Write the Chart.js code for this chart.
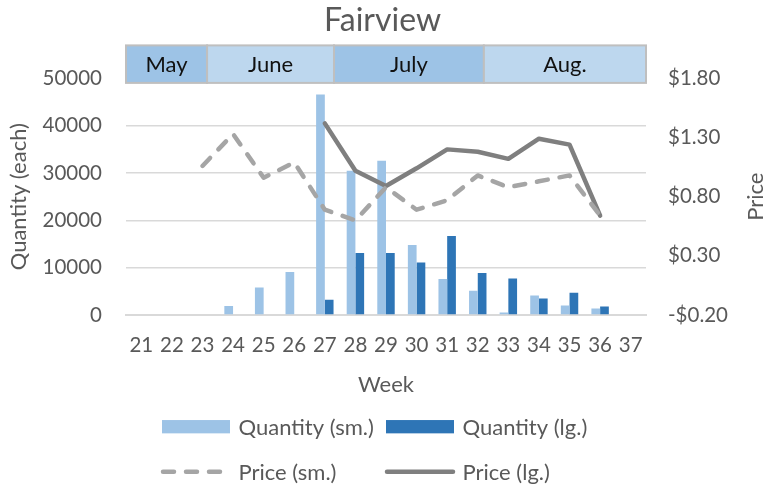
<!DOCTYPE html>
<html>
<head>
<meta charset="utf-8">
<script src="https://cdn.jsdelivr.net/npm/chart.js@4"></script>
<style>
  html, body { margin: 0; padding: 0; background: #ffffff; }
  #wrap { width: 765px; height: 490px; }
</style>
</head>
<body>
<div id="wrap"><canvas id="c" width="765" height="490"></canvas></div>
<script>
// ---- data ----
const weeks = ['21','22','23','24','25','26','27','28','29','30','31','32','33','34','35','36','37'];
const qtySmall = [null, null, null, 1900, 5800, 9100, 46600, 30500, 32600, 14800, 7600, 5100, 550, 4100, 2000, 1400, null];
const qtyLarge = [null, null, null, null, null, null, 3200, 13100, 13100, 11100, 16700, 8900, 7700, 3500, 4700, 1800, null];
const priceSmall = [null, null, 1.06, 1.33, 0.96, 1.09, 0.69, 0.60, 0.88, 0.69, 0.77, 0.98, 0.88, 0.93, 0.98, 0.64, null];
const priceLarge = [null, null, null, null, null, null, 1.42, 1.02, 0.89, 1.04, 1.20, 1.18, 1.12, 1.29, 1.24, 0.64, null];
const qtyTicks = [0, 10000, 20000, 30000, 40000, 50000];
const priceTicks = [-0.20, 0.30, 0.80, 1.30, 1.80];
const months = ['May', 'June', 'July', 'Aug.'];
const monthEdges = [20.5, 23.15, 27.3, 32.2, 37.5]; // in week units

// ---- styles ----
const FONT = 'Lato, Carlito, "Liberation Sans", sans-serif';
const TXT = '#595959';
const monthFills = ['#9DC3E6', '#BDD7EE', '#9DC3E6', '#BDD7EE'];

Chart.defaults.font.family = FONT;
Chart.defaults.color = TXT;

const fmtPrice = v => (v < -1e-9 ? '-' : '') + '$' + Math.abs(v).toFixed(2);

const monthBand = {
  id: 'monthBand',
  afterDraw(chart) {
    const ctx = chart.ctx, xs = chart.scales.x, ca = chart.chartArea;
    const top = ca.top - 33, bottom = ca.top + 4.5;
    const base = Number(weeks[0]);
    ctx.save();
    for (let i = 0; i < months.length; i++) {
      const x0 = xs.getPixelForValue(monthEdges[i] - base);
      const x1 = xs.getPixelForValue(monthEdges[i + 1] - base);
      ctx.fillStyle = monthFills[i];
      ctx.fillRect(x0, top, x1 - x0, bottom - top);
      ctx.strokeStyle = '#BFBFBF';
      ctx.lineWidth = 2;
      ctx.strokeRect(x0, top, x1 - x0, bottom - top);
      ctx.fillStyle = '#111111';
      ctx.font = '22px ' + FONT;
      ctx.textAlign = 'center';
      ctx.textBaseline = 'middle';
      ctx.fillText(months[i], (x0 + x1) / 2, (top + bottom) / 2 + 1);
    }
    // right axis title (reads bottom-to-top)
    ctx.translate(763, (ca.top + ca.bottom) / 2);
    ctx.rotate(-Math.PI / 2);
    ctx.fillStyle = TXT;
    ctx.font = '22px ' + FONT;
    ctx.textAlign = 'center';
    ctx.textBaseline = 'alphabetic';
    ctx.fillText('Price', 0, 0);
    ctx.restore();
  }
};

const gridLegend = {
  id: 'gridLegend',
  afterDraw(chart) {
    const ctx = chart.ctx;
    const ds = chart.data.datasets;
    const cols = [162, 386], rows = [426.7, 471.7];
    const boxW = 68, boxH = 13.3;
    ctx.save();
    ctx.font = '22px ' + FONT;
    ctx.textBaseline = 'middle';
    ctx.textAlign = 'left';
    ds.forEach((d, i) => {
      const x = cols[i % 2], y = rows[Math.floor(i / 2)];
      if (d.type === 'bar') {
        ctx.fillStyle = d.backgroundColor;
        ctx.fillRect(x, y - boxH / 2, boxW, boxH);
      } else {
        ctx.strokeStyle = d.borderColor;
        ctx.lineWidth = d.borderWidth;
        ctx.lineCap = 'round';
        ctx.setLineDash(d.borderDash || []);
        ctx.beginPath();
        ctx.moveTo(x + 1, y);
        ctx.lineTo(x + boxW - 1, y);
        ctx.stroke();
        ctx.setLineDash([]);
      }
      ctx.fillStyle = TXT;
      ctx.fillText(d.label, x + boxW + 8.5, y + 1);
    });
    ctx.restore();
  }
};

new Chart(document.getElementById('c'), {
  data: {
    labels: weeks,
    datasets: [
      { type: 'bar', label: 'Quantity (sm.)', data: qtySmall, yAxisID: 'y', backgroundColor: '#9DC3E6',
        order: 1, categoryPercentage: 0.57, barPercentage: 1 },
      { type: 'bar', label: 'Quantity (lg.)', data: qtyLarge, yAxisID: 'y', backgroundColor: '#2E75B6',
        order: 1, categoryPercentage: 0.57, barPercentage: 1 },
      { type: 'line', label: 'Price (sm.)', data: priceSmall, yAxisID: 'y1', borderColor: '#A5A5A5',
        backgroundColor: '#A5A5A5', borderWidth: 4.5, borderDash: [11, 12], borderCapStyle: 'round',
        borderJoinStyle: 'round', pointRadius: 0, tension: 0, order: 0 },
      { type: 'line', label: 'Price (lg.)', data: priceLarge, yAxisID: 'y1', borderColor: '#7F7F7F',
        backgroundColor: '#7F7F7F', borderWidth: 4.5, borderCapStyle: 'round', borderJoinStyle: 'round',
        pointRadius: 0, tension: 0, order: 0 }
    ]
  },
  options: {
    responsive: false,
    animation: false,
    devicePixelRatio: 1,
    layout: { padding: { top: 0, bottom: 92, left: 0, right: 0 } },
    plugins: {
      legend: { display: false },
      tooltip: { enabled: false },
      title: {
        display: true, text: 'Fairview', color: TXT,
        font: { size: 32, weight: 'normal', family: FONT },
        padding: { top: 1, bottom: 39 }
      }
    },
    scales: {
      x: {
        type: 'category', offset: true,
        grid: { display: false, drawTicks: false },
        border: { display: true, color: '#D9D9D9', width: 2 },
        ticks: { color: TXT, font: { size: 20.5 }, padding: 18, maxRotation: 0, autoSkip: false },
        title: { display: true, text: 'Week', color: TXT, font: { size: 22 }, padding: 0 },
        afterFit: s => { s.height = 83; }
      },
      y: {
        position: 'left', min: qtyTicks[0], max: qtyTicks[qtyTicks.length - 1],
        afterBuildTicks: s => { s.ticks = qtyTicks.map(v => ({ value: v })); },
        grid: { color: '#D9D9D9', lineWidth: 1.5, drawTicks: false },
        border: { display: false },
        ticks: { color: TXT, font: { size: 20.5 }, padding: 24, callback: v => String(v) },
        title: { display: true, text: 'Quantity (each)', color: TXT, font: { size: 22 }, padding: { top: 6, bottom: 0 } },
        afterFit: s => { s.width = 126; }
      },
      y1: {
        position: 'right', min: priceTicks[0], max: priceTicks[priceTicks.length - 1],
        afterBuildTicks: s => { s.ticks = priceTicks.map(v => ({ value: v })); },
        grid: { display: false, drawTicks: false },
        border: { display: false },
        ticks: { color: TXT, font: { size: 20.5 }, padding: 22, callback: v => fmtPrice(v) },
        afterFit: s => { s.width = 119; }
      }
    }
  },
  plugins: [monthBand, gridLegend]
});
</script>
</body>
</html>
